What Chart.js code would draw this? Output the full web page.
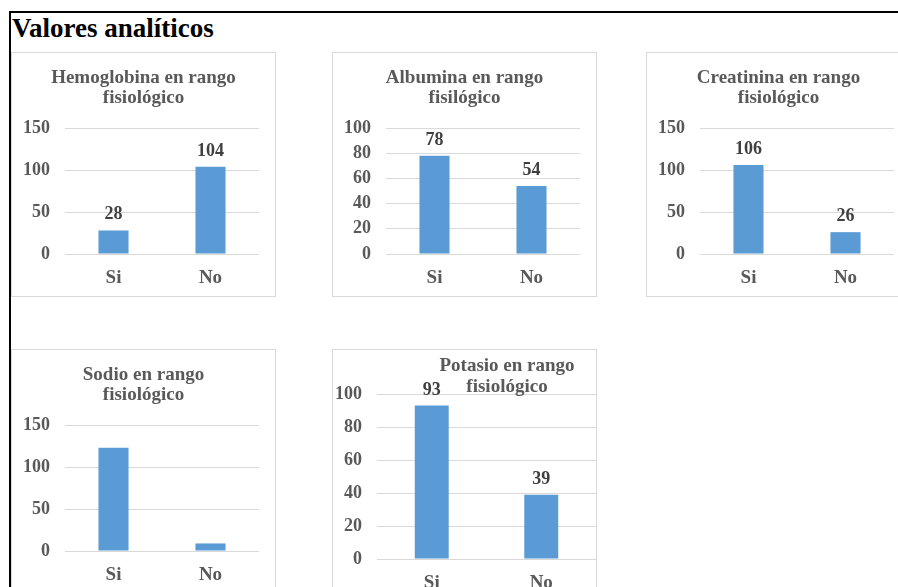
<!DOCTYPE html>
<html>
<head>
<meta charset="utf-8">
<script src="https://cdn.jsdelivr.net/npm/chart.js@4.4.1/dist/chart.umd.min.js"></script>
<style>
    body { margin: 0; background: #fff; width: 898px; height: 587px; overflow: hidden; position: relative; font-family: 'Liberation Serif', serif; }
    .frame { position: absolute; left: 9px; top: 11px; width: 950px; height: 650px; border-top: 2px solid #000; border-left: 2px solid #000; }
    h1 { position: absolute; left: 12px; top: 15px; margin: 0; font-size: 27px; line-height: 27px; font-weight: bold; color: #000; }
    .panel { position: absolute; width: 265px; height: 245px; border: 1px solid #d9d9d9; box-sizing: border-box; background: #fff; }
    .panel canvas { display: block; }
</style>
</head>
<body>
<div class="frame"></div>
<h1>Valores analíticos</h1>
<div class="panel" style="left:11px;top:52px"><canvas id="hemoglobina" width="263" height="243"></canvas></div>
<div class="panel" style="left:332px;top:52px"><canvas id="albumina" width="263" height="243"></canvas></div>
<div class="panel" style="left:646px;top:52px"><canvas id="creatinina" width="263" height="243"></canvas></div>
<div class="panel" style="left:11px;top:349px"><canvas id="sodio" width="263" height="243"></canvas></div>
<div class="panel" style="left:332px;top:349px"><canvas id="potasio" width="263" height="243"></canvas></div>

<script>
const categories = ['Si', 'No'];

const hemoglobinaValues = [28, 104];
const albuminaValues = [78, 54];
const creatininaValues = [106, 26];
const sodioValues = [123, 9];
const potasioValues = [93, 39];

const ticks150 = [0, 50, 100, 150];
const ticks100 = [0, 20, 40, 60, 80, 100];

const hemoglobinaTitle = ['Hemoglobina en rango', 'fisiológico'];
const albuminaTitle = ['Albumina en rango', 'fisilógico'];
const creatininaTitle = ['Creatinina en rango', 'fisiológico'];
const sodioTitle = ['Sodio en rango', 'fisiológico'];
const potasioTitle = ['Potasio en rango', 'fisiológico'];

const serif = "'Liberation Serif', 'Times New Roman', serif";
const grey = '#595959';

// two-line panel title, drawn where Excel put it (can overlap the plot)
const panelTitle = {
    id: 'panelTitle',
    afterDraw(chart, args, opts) {
        const ctx = chart.ctx;
        ctx.save();
        ctx.font = 'bold 19px ' + serif;
        ctx.fillStyle = grey;
        ctx.textAlign = 'center';
        ctx.textBaseline = 'alphabetic';
        const x = opts.x != null ? opts.x : chart.width / 2;
        opts.lines.forEach((line, i) => ctx.fillText(line, x, opts.y + i * 20.5));
        ctx.restore();
    }
};

// value above each bar
const barValues = {
    id: 'barValues',
    afterDatasetsDraw(chart, args, opts) {
        if (!opts.show) return;
        const ctx = chart.ctx;
        const values = chart.data.datasets[0].data;
        ctx.save();
        ctx.font = 'bold 18px ' + serif;
        ctx.fillStyle = '#404040';
        ctx.textAlign = 'center';
        ctx.textBaseline = 'alphabetic';
        chart.getDatasetMeta(0).data.forEach((bar, i) => {
            ctx.fillText(values[i], bar.x, bar.y - 11);
        });
        ctx.restore();
    }
};

const makePanel = (id, title, values, yTicks, opts) => {
    const ctx = document.getElementById(id).getContext('2d');

    new Chart(ctx, {
        type: 'bar',
        data: {
            labels: categories,
            datasets: [
                {
                    data: values,
                    backgroundColor: '#5b9bd5',
                    barPercentage: 0.31,
                    categoryPercentage: 1
                }
            ]
        },
        options: {
            responsive: false,
            animation: false,
            layout: {
                padding: { top: opts.top, right: opts.right, left: 0, bottom: 0 }
            },
            plugins: {
                legend: { display: false },
                tooltip: { enabled: false },
                panelTitle: { lines: title, x: opts.titleX, y: opts.titleY },
                barValues: { show: opts.showValues }
            },
            scales: {
                x: {
                    grid: { display: false },
                    border: { display: false },
                    ticks: {
                        color: grey,
                        font: { family: serif, size: 19, weight: 'bold' },
                        padding: 5
                    },
                    afterFit: (scale) => { scale.height = opts.xHeight; }
                },
                y: {
                    min: 0,
                    max: yTicks[yTicks.length - 1],
                    grid: { color: '#d9d9d9', drawTicks: false },
                    border: { display: false },
                    ticks: {
                        stepSize: yTicks[1] - yTicks[0],
                        color: grey,
                        font: { family: serif, size: 18, weight: 'bold' },
                        padding: 15
                    },
                    afterFit: (scale) => { scale.width = opts.yWidth; }
                }
            }
        },
        plugins: [panelTitle, barValues]
    });
};

const topRow = { top: 75, right: 16, xHeight: 42, yWidth: 53, titleY: 29.5, showValues: true };

document.addEventListener('DOMContentLoaded', function () {
    makePanel('hemoglobina', hemoglobinaTitle, hemoglobinaValues, ticks150, topRow);
    makePanel('albumina', albuminaTitle, albuminaValues, ticks100, topRow);
    makePanel('creatinina', creatininaTitle, creatininaValues, ticks150, topRow);
    makePanel('sodio', sodioTitle, sodioValues, ticks150, { ...topRow, showValues: false });
    makePanel('potasio', potasioTitle, potasioValues, ticks100,
        { top: 44, right: 0, xHeight: 34, yWidth: 44, titleX: 174, titleY: 21, showValues: true });
});
</script>
</body>
</html>
